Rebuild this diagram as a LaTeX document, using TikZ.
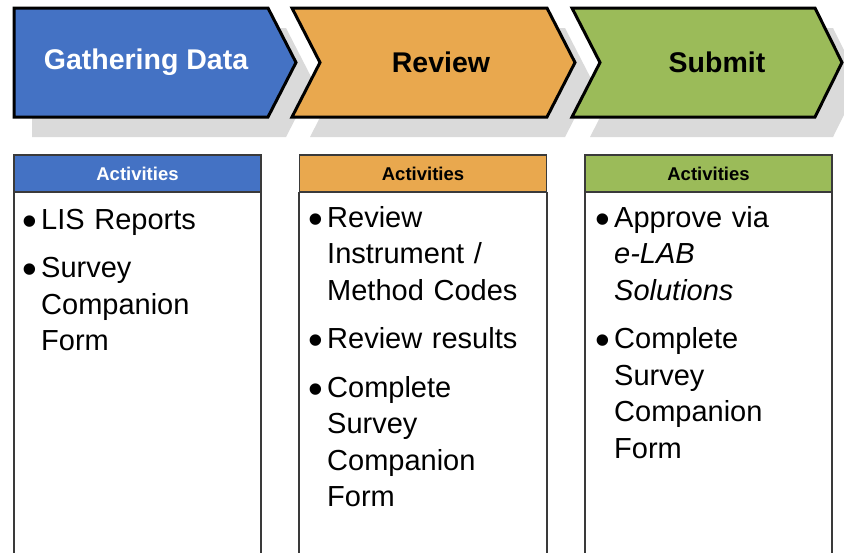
\documentclass[tikz,border=0pt]{standalone}
\usepackage{fontspec}
\setmainfont{Liberation Sans}
\usetikzlibrary{positioning}
\definecolor{gatherblue}{HTML}{4472C4}
\definecolor{revieworange}{HTML}{E9A84E}
\definecolor{submitgreen}{HTML}{9BBB59}
\definecolor{shadowgray}{HTML}{DADADA}
\definecolor{boxline}{HTML}{3A3A3A}
\newcommand{\actitem}[1]{\hangindent=19pt\hangafter=1\noindent\makebox[19pt][l]{\raisebox{-6pt}{\fontsize{42}{42}\selectfont\textbullet}}#1\par}
\tikzset{
	chevron/.style={draw=black, line width=3pt, line join=miter},
	chevshadow/.style={fill=shadowgray, draw=none},
	steptitle/.style={font=\fontsize{28.5}{30}\selectfont\bfseries, inner sep=0pt},
	acthead/.style={draw=boxline, line width=1.1pt, minimum width=247pt, minimum height=37pt, inner sep=0pt, font=\fontsize{18.5}{20}\selectfont\bfseries},
	actbody/.style={draw=boxline, line width=1.1pt},
	actlist/.style={anchor=base west, inner sep=0pt, text width=225pt, align=left, font=\fontsize{29}{36.5}\selectfont\setlength{\parskip}{12pt}}
}
\begin{document}
\begin{tikzpicture}[x=1pt, y=-1pt]
				\useasboundingbox (0,0) rectangle (844,552);
				\fill[white] (0,0) rectangle (844,552);
				
				\begin{scope}[shift={(18,20)}]
					\fill[chevshadow] (14,8) -- (268,8) -- (296,62.5) -- (268,117) -- (14,117) -- cycle;
					\fill[chevshadow] (292,8) -- (547,8) -- (575,62.5) -- (547,117) -- (292,117) -- (320,62.5) -- cycle;
					\fill[chevshadow] (572,8) -- (815,8) -- (842,62.5) -- (815,117) -- (572,117) -- (600,62.5) -- cycle;
				\end{scope}
				
				\draw[chevron, fill=gatherblue] (14,8) -- (268,8) -- (296,62.5) -- (268,117) -- (14,117) -- cycle;
				\draw[chevron, fill=revieworange] (292,8) -- (547,8) -- (575,62.5) -- (547,117) -- (292,117) -- (320,62.5) -- cycle;
				\draw[chevron, fill=submitgreen] (572,8) -- (815,8) -- (842,62.5) -- (815,117) -- (572,117) -- (600,62.5) -- cycle;
				
				\node[steptitle, text=white] (gathertitle) at (146,62) {Gathering Data};
				\node[steptitle] (reviewtitle) at (441,62) {Review};
				\node[steptitle] (submittitle) at (717,62) {Submit};
				
				\draw[actbody] (14,192) -- (14,560);
				\draw[actbody] (261,192) -- (261,560);
				\draw[actbody] (299,192) -- (299,560);
				\draw[actbody] (547,192) -- (547,560);
				\draw[actbody] (585,192) -- (585,560);
				\draw[actbody] (832,192) -- (832,560);
				
				\node[acthead, fill=gatherblue, text=white] (gatherhead) at (137.5,173.5) {Activities};
				\node[acthead, fill=revieworange] (reviewhead) at (423,173.5) {Activities};
				\node[acthead, fill=submitgreen] (submithead) at (708.5,173.5) {Activities};
				
				\node[actlist] (gatheritems) at (22,229) {\actitem{LIS Reports}\actitem{Survey\newline Companion\newline Form}};
				\node[actlist] (reviewitems) at (308,227) {\actitem{Review\newline Instrument /\newline Method Codes}\actitem{Review results}\actitem{Complete\newline Survey\newline Companion\newline Form}};
				\node[actlist] (submititems) at (595,227) {\actitem{Approve via\newline \textit{e-LAB}\newline \textit{Solutions}}\actitem{Complete\newline Survey\newline Companion\newline Form}};
			\end{tikzpicture}
\end{document}
